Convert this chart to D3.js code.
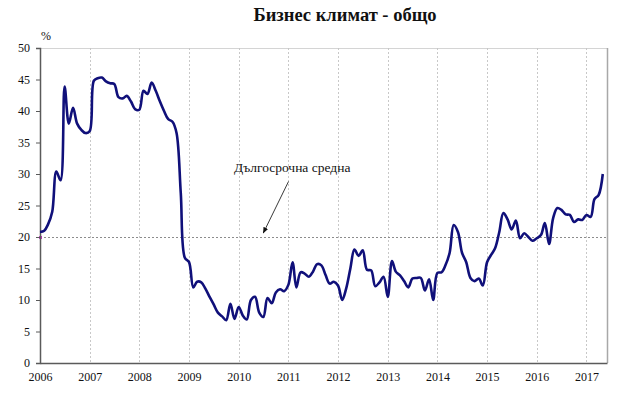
<!DOCTYPE html>
<html>
<head>
<meta charset="utf-8">
<script src="https://cdn.jsdelivr.net/npm/d3@7"></script>
<style>
  body { margin: 0; background: #fff; }
  svg text { font-family: "Liberation Serif", "DejaVu Serif", serif; fill: #111; }
</style>
</head>
<body>
<div id="chart"></div>
<script>
// Business climate, monthly, Jan 2006 - May 2017 (%)
const startYear = 2006;
const climate2006 = [20.8, 21.0, 22.0, 24.0, 30.4, 29.0, 43.9, 38.0, 40.5, 38.0, 37.0, 36.5];
const climate2007 = [36.8, 44.8, 45.2, 45.3, 44.7, 44.4, 44.3, 42.2, 42.0, 42.4, 41.5, 40.3];
const climate2008 = [40.2, 43.2, 42.7, 44.5, 43.2, 41.5, 40.0, 38.7, 38.3, 36.5, 27.0, 16.7];
const climate2009 = [16.0, 12.0, 12.9, 12.8, 11.8, 10.5, 9.3, 8.0, 7.4, 6.8, 9.4, 7.0];
const climate2010 = [8.9, 7.5, 6.9, 10.0, 10.5, 8.0, 7.3, 10.3, 9.5, 11.2, 11.7, 11.4];
const climate2011 = [12.4, 16.0, 12.0, 14.4, 14.2, 13.7, 14.5, 15.7, 15.5, 14.0, 12.6, 12.9];
const climate2012 = [12.3, 10.0, 11.8, 15.0, 18.0, 17.0, 17.9, 14.8, 14.7, 12.2, 12.8, 13.7];
const climate2013 = [10.5, 16.2, 14.5, 13.9, 13.0, 12.0, 13.4, 13.5, 13.5, 11.5, 13.3, 10.0];
const climate2014 = [14.3, 14.4, 15.5, 17.5, 21.9, 20.8, 17.5, 16.0, 13.5, 13.0, 13.4, 12.3];
const climate2015 = [16.0, 17.2, 18.2, 20.8, 23.8, 22.8, 21.2, 22.6, 19.8, 20.6, 20.0, 19.4];
const climate2016 = [19.8, 20.3, 22.2, 18.9, 23.0, 24.6, 24.3, 23.6, 23.5, 22.4, 22.8, 22.7];
const climate2017 = [23.5, 23.2, 26.0, 26.7, 30.0];
const longTermAverage = 20;

const yearTicks = [2006, 2007, 2008, 2009, 2010, 2011, 2012, 2013, 2014, 2015, 2016, 2017];
const yTicks = [0, 5, 10, 15, 20, 25, 30, 35, 40, 45, 50];

const title = 'Бизнес климат - общо';
const avgLabel = 'Дългосрочна средна';

const values = [].concat(climate2006, climate2007, climate2008, climate2009, climate2010,
    climate2011, climate2012, climate2013, climate2014, climate2015, climate2016, climate2017);
const data = values.map((v, i) => ({ date: new Date(startYear, i, 1), value: v }));

// Layout
const W = 630, H = 395;
const plot = { left: 40, right: 607, top: 48, bottom: 363 };

const svg = d3.select('#chart')
    .append('svg')
    .attr('width', W)
    .attr('height', H);

const x = d3.scaleTime()
    .domain([new Date(startYear, 0, 1), new Date(2017, 5, 1)])
    .range([plot.left, plot.right]);

const y = d3.scaleLinear()
    .domain([0, 50])
    .range([plot.bottom, plot.top]);

// Plot border (top + right)
svg.append('line')
    .attr('x1', plot.left).attr('x2', plot.right)
    .attr('y1', plot.top + 0.5).attr('y2', plot.top + 0.5)
    .attr('stroke', '#d4d4d4');
svg.append('line')
    .attr('x1', plot.right + 0.5).attr('x2', plot.right + 0.5)
    .attr('y1', plot.top).attr('y2', plot.bottom)
    .attr('stroke', '#a8a8a8')
    .attr('stroke-width', 1.5);

// Vertical year grid lines
svg.append('g')
    .selectAll('line')
    .data(yearTicks.slice(1))
    .join('line')
    .attr('x1', d => Math.round(x(new Date(d, 0, 1))) + 0.5)
    .attr('x2', d => Math.round(x(new Date(d, 0, 1))) + 0.5)
    .attr('y1', plot.top)
    .attr('y2', plot.bottom)
    .attr('stroke', '#c8c8c8')
    .attr('stroke-dasharray', '2,2');

// Long-term average
svg.append('line')
    .attr('x1', plot.left)
    .attr('x2', plot.right)
    .attr('y1', Math.round(y(longTermAverage)) + 0.5)
    .attr('y2', Math.round(y(longTermAverage)) + 0.5)
    .attr('stroke', '#8c8c8c')
    .attr('stroke-width', 1.2)
    .attr('stroke-dasharray', '2,2');

svg.append('rect')
    .attr('x', plot.left - 1)
    .attr('y', y(longTermAverage) - 1)
    .attr('width', 3)
    .attr('height', 3)
    .attr('fill', '#cc33cc');

// Y axis
const yAxis = svg.append('g')
    .attr('transform', `translate(${plot.left},0)`)
    .call(d3.axisLeft(y).tickValues(yTicks).tickSize(4).tickPadding(6));
yAxis.select('.domain').attr('stroke', '#5a5a5a').attr('stroke-width', 1.5);
yAxis.selectAll('.tick line').attr('stroke', '#5a5a5a');
yAxis.selectAll('text')
    .style('font-size', '12px')
    .style('font-family', '"Liberation Serif", serif')
    .attr('fill', '#111');

// X axis
const xAxis = svg.append('g')
    .attr('transform', `translate(0,${plot.bottom})`)
    .call(d3.axisBottom(x)
        .tickValues(yearTicks.map(d => new Date(d, 0, 1)))
        .tickFormat(d3.timeFormat('%Y'))
        .tickSize(0)
        .tickPadding(9));
xAxis.select('.domain').attr('stroke', '#5a5a5a').attr('stroke-width', 1.5);
xAxis.selectAll('text')
    .style('font-size', '12px')
    .style('font-family', '"Liberation Serif", serif')
    .attr('fill', '#111');

// Series line
const line = d3.line()
    .x(d => x(d.date))
    .y(d => y(d.value))
    .curve(d3.curveCatmullRom.alpha(0.5));

svg.append('path')
    .datum(data)
    .attr('fill', 'none')
    .attr('stroke', '#10107a')
    .attr('stroke-width', 2.6)
    .attr('stroke-linejoin', 'round')
    .attr('d', line);

// Title and unit
svg.append('text')
    .attr('x', 345)
    .attr('y', 21)
    .attr('text-anchor', 'middle')
    .style('font-size', '18.5px')
    .style('font-weight', 'bold')
    .text(title);

svg.append('text')
    .attr('x', 41)
    .attr('y', 40)
    .style('font-size', '12px')
    .text('%');

// Annotation with arrow
const defs = svg.append('defs');
defs.append('marker')
    .attr('id', 'arrowhead')
    .attr('viewBox', '0 0 10 10')
    .attr('refX', 9)
    .attr('refY', 5)
    .attr('markerWidth', 7)
    .attr('markerHeight', 7)
    .attr('orient', 'auto')
    .append('path')
    .attr('d', 'M0,1 L10,5 L0,9 Z')
    .attr('fill', '#111');

svg.append('line')
    .attr('x1', 288.5)
    .attr('y1', 181.5)
    .attr('x2', x(new Date(2010, 6, 1)))
    .attr('y2', y(longTermAverage) - 4)
    .attr('stroke', '#222')
    .attr('stroke-width', 0.9)
    .attr('marker-end', 'url(#arrowhead)');

svg.append('text')
    .attr('x', 234)
    .attr('y', 171.5)
    .style('font-size', '13.5px')
    .text(avgLabel);
</script>
</body>
</html>
